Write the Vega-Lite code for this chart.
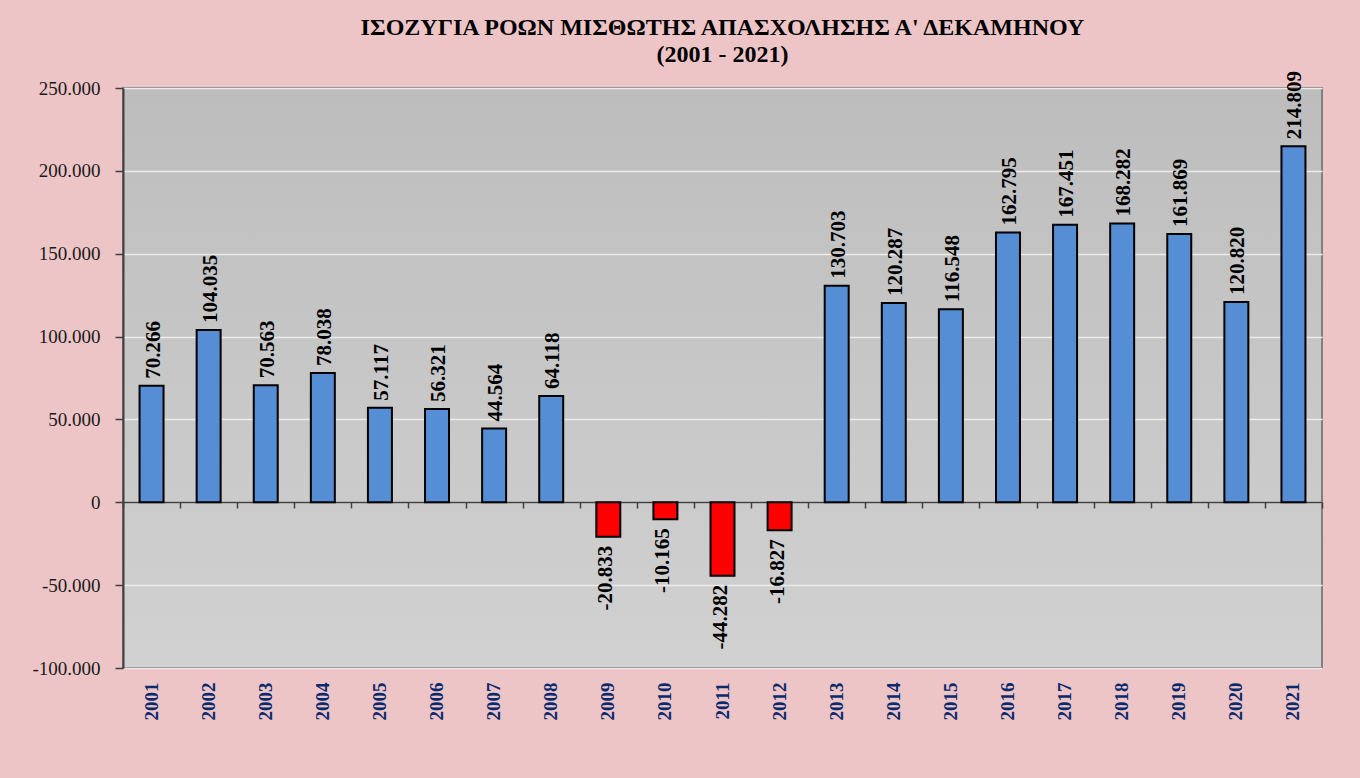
{
  "$schema": "https://vega.github.io/schema/vega-lite/v6.json",
  "width": 1199,
  "height": 580,
  "autosize": {"type": "none"},
  "padding": {"left": 123, "top": 88, "right": 38, "bottom": 110},
  "background": "#eec5c7",
  "title": {
    "text": ["ΙΣΟΖΥΓΙΑ ΡΟΩΝ ΜΙΣΘΩΤΗΣ ΑΠΑΣΧΟΛΗΣΗΣ Α' ΔΕΚΑΜΗΝΟΥ", "(2001 - 2021)"],
    "font": "Liberation Serif",
    "fontSize": 24,
    "fontWeight": "bold",
    "lineHeight": 27,
    "anchor": "middle",
    "color": "#000000",
    "offset": 4
  },
  "data": {
    "values": [
      {"year": "2001", "v": 70266},
      {"year": "2002", "v": 104035},
      {"year": "2003", "v": 70563},
      {"year": "2004", "v": 78038},
      {"year": "2005", "v": 57117},
      {"year": "2006", "v": 56321},
      {"year": "2007", "v": 44564},
      {"year": "2008", "v": 64118},
      {"year": "2009", "v": -20833},
      {"year": "2010", "v": -10165},
      {"year": "2011", "v": -44282},
      {"year": "2012", "v": -16827},
      {"year": "2013", "v": 130703},
      {"year": "2014", "v": 120287},
      {"year": "2015", "v": 116548},
      {"year": "2016", "v": 162795},
      {"year": "2017", "v": 167451},
      {"year": "2018", "v": 168282},
      {"year": "2019", "v": 161869},
      {"year": "2020", "v": 120820},
      {"year": "2021", "v": 214809}
    ]
  },
  "resolve": {"axis": {"x": "independent"}},
  "layer": [
    {
      "mark": {"type": "bar", "width": {"band": 0.42}, "stroke": "#000000", "strokeWidth": 2},
      "encoding": {
        "x": {
          "field": "year", "type": "ordinal", "sort": null,
          "scale": {"paddingInner": 0, "paddingOuter": 0},
          "axis": {
            "title": null, "orient": "bottom", "labelAngle": 270, "labelAlign": "right",
            "labelBaseline": "middle", "labelPadding": 14, "ticks": false, "domain": false,
            "labelColor": "#0a2a6e", "labelFont": "Liberation Serif", "labelFontWeight": "bold",
            "labelFontSize": 19, "grid": false
          }
        },
        "y": {
          "field": "v", "type": "quantitative",
          "scale": {"domain": [-100000, 250000], "nice": false, "zero": false},
          "axis": {
            "title": null, "values": [-100000, -50000, 0, 50000, 100000, 150000, 200000, 250000],
            "format": ",d", "labelFont": "Liberation Serif", "labelFontSize": 19,
            "labelColor": "#1a1a1a", "labelPadding": 15, "tickSize": 8, "tickColor": "#404040",
            "tickWidth": 1.5, "domainColor": "#404040", "domainWidth": 2,
            "grid": true, "gridColor": "#ececec", "gridWidth": 1.5
          }
        },
        "color": {"condition": {"test": "datum.v < 0", "value": "#ff0000"}, "value": "#558ed5"}
      }
    },
    {
      "transform": [{"filter": "datum.v >= 0"}],
      "mark": {"type": "text", "angle": 270, "align": "left", "baseline": "middle", "dx": 7, "dy": 2,
               "font": "Liberation Serif", "fontSize": 21, "fontWeight": "bold", "color": "#000000"},
      "encoding": {
        "x": {
          "field": "year", "type": "ordinal", "sort": null,
          "axis": {
            "title": null, "orient": "bottom", "offset": -166, "labels": false, "ticks": true,
            "tickBand": "extent", "tickSize": 6, "tickColor": "#404040", "tickWidth": 1.5,
            "domain": true, "domainColor": "#404040", "domainWidth": 1.5, "grid": false
          }
        },
        "y": {"field": "v", "type": "quantitative"},
        "text": {"field": "v", "type": "quantitative", "format": ",d"}
      }
    },
    {
      "transform": [{"filter": "datum.v < 0"}],
      "mark": {"type": "text", "angle": 270, "align": "right", "baseline": "middle", "dx": -9, "dy": -2,
               "font": "Liberation Serif", "fontSize": 21, "fontWeight": "bold", "color": "#000000"},
      "encoding": {
        "x": {"field": "year", "type": "ordinal", "sort": null, "axis": null},
        "y": {"field": "v", "type": "quantitative"},
        "text": {"field": "v", "type": "quantitative", "format": ",d"}
      }
    }
  ],
  "config": {
    "locale": {"number": {"decimal": ",", "thousands": ".", "grouping": [3], "currency": ["", " €"], "minus": "-"}},
    "view": {
      "fill": {"gradient": "linear", "x1": 0, "y1": 0, "x2": 0, "y2": 1,
               "stops": [{"offset": 0, "color": "#bdbdbd"}, {"offset": 1, "color": "#d1d1d1"}]},
      "stroke": "#808080",
      "strokeWidth": 2
    }
  }
}
